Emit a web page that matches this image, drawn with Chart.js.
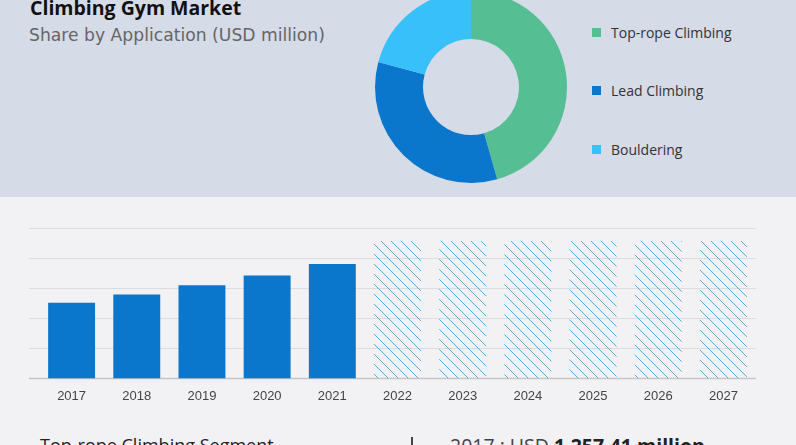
<!DOCTYPE html>
<html>
<head>
<meta charset="utf-8">
<script src="https://cdn.jsdelivr.net/npm/chart.js@4/dist/chart.umd.min.js"></script>
<style>
   html, body { margin: 0; padding: 0; width: 796px; height: 445px; overflow: hidden; background: #f2f1f4; }
   #top { position: absolute; left: 0; top: 0; width: 796px; height: 197px; background: #d5dbe7; }
   #title { position: absolute; left: 30px; top: -6px; font: bold 19.5px "Open Sans", sans-serif; color: #111; white-space: nowrap; }
   #subtitle { position: absolute; left: 29px; top: 25px; font: 17.2px "DejaVu Sans", sans-serif; color: #666; white-space: nowrap; }
   #pie-wrap { position: absolute; left: 375px; top: -9px; width: 192px; height: 192px; }
   #legend { position: absolute; left: 592px; top: 0; font: 14px "Open Sans", sans-serif; color: #333; }
   #legend div { position: absolute; white-space: nowrap; }
   #legend span { display: inline-block; width: 9px; height: 9px; margin-right: 10px; vertical-align: 1px; }
   #bar-wrap { position: absolute; left: 0; top: 200px; width: 796px; height: 215px; }
   #foot1 { position: absolute; left: 40px; top: 433px; font: 18px "Open Sans", sans-serif; color: #222; white-space: nowrap; }
   #sep { position: absolute; left: 411px; top: 437px; width: 1.5px; height: 12px; background: #444; }
   #foot2 { position: absolute; left: 450px; top: 432px; font: 19.5px "Open Sans", sans-serif; color: #444; white-space: nowrap; }
   #foot2 b { color: #222; }
</style>
</head>
<body>
<div id="top">
   <div id="title">Climbing Gym Market</div>
   <div id="subtitle">Share by Application (USD million)</div>
   <div id="pie-wrap"><canvas id="pie-chart" width="192" height="192"></canvas></div>
   <div id="legend"></div>
</div>
<div id="bar-wrap"><canvas id="bar-chart" width="796" height="215"></canvas></div>
<div id="foot1">Top-rope Climbing Segment</div>
<div id="sep"></div>
<div id="foot2">2017 : USD <b>1,257.41 million</b></div>

<script>
   // dados do donut (share por aplicação)
   const segLabels = ['Top-rope Climbing', 'Lead Climbing', 'Bouldering'];
   const segValues = [45.6, 33.6, 20.8];
   const segColors = ['#55be93', '#0a77cc', '#38c0fa'];

   // dados das barras (USD million)
   const years = ['2017', '2018', '2019', '2020', '2021', '2022', '2023', '2024', '2025', '2026', '2027'];
   const marketValues = [1257.41, 1395, 1550, 1712, 1900, 2283, 2283, 2283, 2283, 2283, 2283];
   const forecastFrom = '2022';
   const gridValues = [0, 500, 1000, 1500, 2000, 2500];

   (function () {
      // legenda em HTML
      const legendEl = document.getElementById('legend');
      const rowTops = [23, 81, 140];
      segLabels.forEach((lab, i) => {
         const row = document.createElement('div');
         row.style.top = rowTops[i] + 'px';
         row.innerHTML = '<span style="background:' + segColors[i] + '"></span>' + lab;
         legendEl.appendChild(row);
      });

      new Chart(document.getElementById('pie-chart'), {
         type: 'doughnut',
         data: {
            labels: segLabels,
            datasets: [{
               data: segValues,
               backgroundColor: segColors,
               borderWidth: 0,
               cutout: '50%'
            }]
         },
         options: {
            responsive: false,
            animation: false,
            layout: { padding: 0 },
            plugins: { legend: { display: false }, tooltip: { enabled: false } }
         }
      });

      // hachura das barras de previsão
      const tile = document.createElement('canvas');
      tile.width = 10; tile.height = 10;
      const t = tile.getContext('2d');
      t.strokeStyle = '#5aaad8';
      t.lineWidth = 1;
      t.beginPath();
      t.moveTo(0, 0); t.lineTo(10, 10);
      t.moveTo(-2, 8); t.lineTo(2, 12);
      t.moveTo(8, -2); t.lineTo(12, 2);
      t.stroke();
      const barCanvas = document.getElementById('bar-chart');
      const hatch = barCanvas.getContext('2d').createPattern(tile, 'repeat');

      const fcIdx = years.indexOf(forecastFrom);
      const barColors = years.map((y, i) => i < fcIdx ? '#0a77cc' : hatch);

      // linhas de grade desenhadas um pouco além da área
      const gridPlugin = {
         id: 'gridLines',
         beforeDatasetsDraw(chart) {
            const ctx = chart.ctx;
            const ys = chart.scales.y;
            ctx.save();
            gridValues.forEach(v => {
               const py = Math.round(ys.getPixelForValue(v)) + 0.5;
               ctx.strokeStyle = v === 0 ? '#c6c6c9' : '#dcdce0';
               ctx.lineWidth = v === 0 ? 1.5 : 1;
               ctx.beginPath();
               ctx.moveTo(29, py);
               ctx.lineTo(756, py);
               ctx.stroke();
            });
            ctx.restore();
         }
      };

      new Chart(barCanvas, {
         type: 'bar',
         data: {
            labels: years,
            datasets: [{
               data: marketValues,
               backgroundColor: barColors,
               borderWidth: 0,
               barPercentage: 0.72,
               categoryPercentage: 1
            }]
         },
         options: {
            responsive: false,
            animation: false,
            layout: { padding: { left: 39, right: 40, top: 28, bottom: 1 } },
            scales: {
               x: {
                  grid: { display: false, drawTicks: false },
                  border: { display: false },
                  ticks: { color: '#444', padding: 10, font: { family: '"Liberation Sans", Arial', size: 13 } }
               },
               y: {
                  display: false,
                  min: 0,
                  max: 2500
               }
            },
            plugins: { legend: { display: false }, tooltip: { enabled: false } }
         },
         plugins: [gridPlugin]
      });
   })();
</script>
</body>
</html>
